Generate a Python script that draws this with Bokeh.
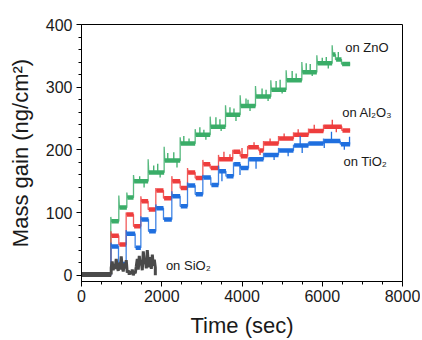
import numpy as np
from bokeh.plotting import figure
from bokeh.models import Range1d, FixedTicker, Label
from bokeh.embed import file_html
from bokeh.resources import INLINE

# ---------------- data ----------------
T_END = 6695  # end of the colored traces (sec)

# ZnO: step start time, overshoot peak, plateau level (ng/cm2)
zno_t = [730, 930, 1130, 1296, 1661, 2060, 2459, 2833, 3207, 3589, 3954, 4336, 4718, 5100, 5491, 5865, 6247, 6330, 6480]
zno_peak = [93, 127, 132, 160, 185, 205, 220, 233, 253, 271, 287, 302, 311, 327, 340, 351, 367, 344, 337]
zno_level = [86, 108, 124, 150, 164, 183, 210, 224, 237, 256, 270, 285, 296, 311, 324, 338, 352, 344, 337]
zno_spike_t = [1450, 1560, 1800, 1900, 1960, 2150, 2300, 2380, 2550, 2680, 2950, 3050, 3100, 3350, 3450, 3480,
               3700, 3800, 3850, 4100, 4150, 4200, 4500, 4600, 4650, 4850, 4950, 5000, 5250, 5350, 5600, 5700,
               5750, 6000, 6100, 6150, 6400]
zno_spike_v = [158, 140, 175, 178, 156, 195, 196, 172, 222, 218, 236, 232, 216, 252, 249, 230,
               268, 266, 246, 282, 280, 262, 298, 296, 278, 310, 312, 290, 326, 322, 338, 337,
               318, 347, 348, 330, 356]

# Al2O3
al_t = [735, 930, 1113, 1296, 1479, 1661, 1852, 2043, 2251, 2459, 2642, 2833, 3024, 3207, 3414, 3770, 3955,
        4140, 4420, 4536, 4910, 5283, 5657, 6031, 6488]
al_peak = [70, 49, 100, 78, 126, 105, 139, 123, 158, 139, 171, 155, 184, 171, 192, 200, 190,
           206, 199, 214, 222, 228, 234, 240, 231]
al_level = [63, 49, 97, 78, 118, 105, 135, 123, 150, 139, 164, 155, 177, 171, 185, 197, 190,
            204, 199, 210, 218, 224, 230, 237, 231]
al_spike_t = [3550, 3700, 4000, 4300, 4450, 4700, 5050, 5400, 5800, 6250, 6350]
al_spike_v = [197, 193, 203, 212, 192, 218, 226, 233, 240, 248, 228]

# TiO2
ti_t = [735, 922, 1113, 1337, 1479, 1670, 1852, 2043, 2251, 2459, 2642, 2833, 3024, 3223, 3414, 3600, 3788,
        3960, 4162, 4536, 4910, 5283, 5657, 6031, 6450]
ti_peak = [52, 18, 72, 44, 94, 70, 113, 89, 134, 110, 148, 129, 160, 144, 175, 158, 180,
           171, 188, 195, 203, 208, 213, 218, 209]
ti_level = [46, 18, 66, 44, 89, 70, 107, 89, 126, 110, 143, 129, 156, 144, 166, 158, 177,
            171, 185, 192, 199, 207, 210, 214, 209]
ti_spike_t = [3500, 3950, 4350, 4800, 5150, 5450, 5500, 6050, 6230, 6550, 6680]
ti_spike_v = [150, 160, 170, 184, 190, 222, 195, 203, 229, 200, 221]

# SiO2: baseline then noisy trace sampled every 25 s from 740 to 1840 s
sio2_base_t = [0, 740]
sio2_base_v = [1, 1]
sio2_t = list(range(740, 1841, 25))
sio2_v = [12, 22, 8, 18, 10, 26, 14, 7, 20, 9, 30, 13, 6, 19, 11, 24,
          4, 8, 1, 6, 2, 9, 0, 5, 3,
          14, 26, 9, 31, 16, 22, 8, 38, 18, 27, 11, 40, 20, 13, 29, 10, 33, 15, 25, 12]

x_ticks = [0, 2000, 4000, 6000, 8000]
y_ticks = [0, 100, 200, 300, 400]

ZNO = "#3aad68"
AL = "#ee3d3d"
TI = "#1f6fdf"
SI = "#4a4a4a"

FONT = "Liberation Sans"

p = figure(width=420, height=340, output_backend="svg", toolbar_location=None,
           x_range=Range1d(0, 8000), y_range=Range1d(-10, 400),
           min_border_left=81, min_border_right=18, min_border_top=24, min_border_bottom=58,
           x_axis_label="Time (sec)", y_axis_label="Mass gain (ng/cm²)")
p.grid.visible = False
p.outline_line_color = "black"
p.outline_line_width = 1
p.background_fill_color = "white"
p.border_fill_color = "white"


def draw_steps(ts, peaks, levels, color, sp_t, sp_v):
    xs, ys = [0], [0]
    prev = 0
    for t, pk, lv in zip(ts, peaks, levels):
        xs += [t, t, t + 15]
        ys += [prev, pk, lv]
        prev = lv
    xs.append(T_END)
    ys.append(prev)
    p.line(xs, ys, line_color=color, line_width=1.3, line_alpha=0.85)
    ends = list(ts[1:]) + [T_END]
    p.segment(x0=[t + 15 for t in ts], y0=levels, x1=ends, y1=levels,
              line_color=color, line_width=4.5)
    idx = np.searchsorted(ts, sp_t, side="right") - 1
    base = [levels[i] for i in idx]
    p.segment(x0=sp_t, y0=base, x1=sp_t, y1=sp_v, line_color=color, line_width=1.3)


draw_steps(zno_t, zno_peak, zno_level, ZNO, zno_spike_t, zno_spike_v)
draw_steps(al_t, al_peak, al_level, AL, al_spike_t, al_spike_v)
draw_steps(ti_t, ti_peak, ti_level, TI, ti_spike_t, ti_spike_v)

p.line(sio2_base_t, sio2_base_v, line_color=SI, line_width=5)
p.line([sio2_base_t[-1]] + sio2_t + [sio2_t[-1]], [sio2_base_v[-1]] + sio2_v + [0],
       line_color=SI, line_width=3)

# axes styling
for ax in (p.xaxis[0], p.yaxis[0]):
    ax.axis_line_color = "black"
    ax.axis_line_width = 1
    ax.major_tick_line_color = "black"
    ax.minor_tick_line_color = "black"
    ax.major_tick_in = 0
    ax.major_tick_out = 5
    ax.minor_tick_in = 0
    ax.minor_tick_out = 3
    ax.major_label_text_font = FONT
    ax.major_label_text_font_size = "16px"
    ax.major_label_text_color = "#1a1a1a"
    ax.axis_label_text_font = FONT
    ax.axis_label_text_font_size = "22px"
    ax.axis_label_text_font_style = "normal"
    ax.axis_label_text_color = "#1a1a1a"

p.xaxis[0].ticker = FixedTicker(ticks=x_ticks, minor_ticks=[v for v in range(0, 8001, 500) if v not in x_ticks])
p.yaxis[0].ticker = FixedTicker(ticks=y_ticks, minor_ticks=[v for v in range(0, 401, 20) if v not in y_ticks])
p.xaxis[0].major_label_standoff = 3
p.xaxis[0].axis_label_standoff = 8
p.yaxis[0].major_label_standoff = 4
p.yaxis[0].axis_label_standoff = 10

labels = [("on ZnO", 6571, 363), ("on Al₂O₃", 6496, 259), ("on TiO₂", 6530, 181), ("on SiO₂", 2103, 15)]
for txt, lx, ly in labels:
    p.add_layout(Label(x=lx, y=ly, text=txt, text_font=FONT, text_font_size="13px",
                       text_baseline="middle", text_align="left", text_color="#1a1a1a"))

open("out.html", "w").write(file_html(p, INLINE))
